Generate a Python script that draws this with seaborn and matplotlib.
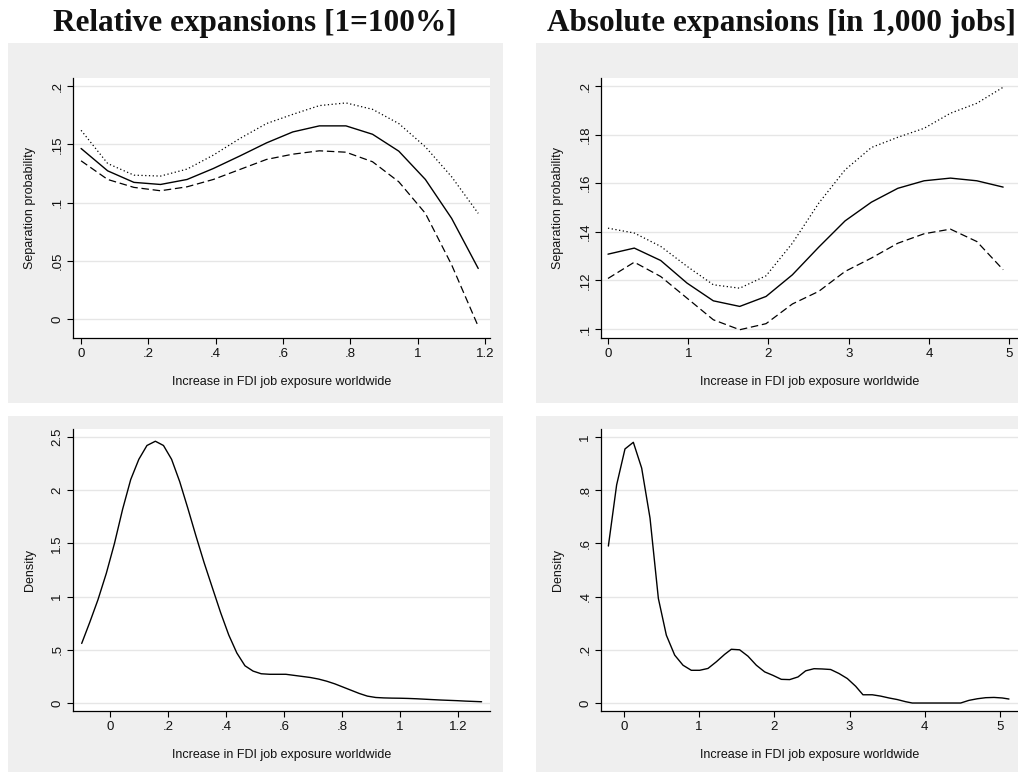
import numpy as np
import pandas as pd
import seaborn as sns
import matplotlib.pyplot as plt
from matplotlib.patches import Rectangle
from matplotlib.ticker import FixedLocator, FuncFormatter

# Top-left: relative expansions, separation probability with bounds
rel_x = [0, 0.079, 0.157, 0.236, 0.315, 0.393, 0.472, 0.551, 0.629, 0.708,
         0.787, 0.866, 0.944, 1.023, 1.101, 1.18]
rel_fit = [0.1464, 0.1272, 0.1173, 0.1155, 0.1198, 0.1292, 0.140, 0.1512,
           0.1606, 0.1658, 0.1658, 0.1586, 0.1441, 0.1198, 0.0864, 0.0434]
rel_upper = [0.162, 0.1335, 0.1235, 0.1227, 0.1287, 0.1407, 0.155, 0.1678,
             0.1757, 0.1832, 0.1855, 0.180, 0.1678, 0.1478, 0.1221, 0.0907]
rel_lower = [0.1358, 0.1198, 0.113, 0.1101, 0.1135, 0.1198, 0.1284, 0.137,
             0.1415, 0.1444, 0.1432, 0.135, 0.1178, 0.0907, 0.0465, -0.0063]

# Top-right: absolute expansions
abs_x = [0, 0.328, 0.657, 0.985, 1.313, 1.642, 1.97, 2.298, 2.627, 2.955,
         3.283, 3.612, 3.94, 4.268, 4.597, 4.925]
abs_fit = [0.1308, 0.1333, 0.1282, 0.1189, 0.1116, 0.1093, 0.1134, 0.1223,
           0.1337, 0.1445, 0.1522, 0.1579, 0.1610, 0.1621, 0.1610, 0.1584]
abs_upper = [0.1415, 0.1395, 0.134, 0.1258, 0.1182, 0.1168, 0.1219, 0.1353,
             0.1518, 0.1655, 0.1747, 0.1789, 0.1826, 0.1888, 0.1929, 0.1995]
abs_lower = [0.1208, 0.1275, 0.1216, 0.1127, 0.1038, 0.0997, 0.1022, 0.1103,
             0.1155, 0.1237, 0.1292, 0.1353, 0.1392, 0.1411, 0.136, 0.1244]

# Bottom-left: density of relative expansions
rel_dens_x = [-0.098, -0.070, -0.042, -0.013, 0.015, 0.043, 0.071, 0.099, 0.127,
              0.156, 0.184, 0.212, 0.240, 0.268, 0.296, 0.324, 0.353, 0.381,
              0.409, 0.437, 0.465, 0.493, 0.521, 0.550, 0.578, 0.606, 0.634,
              0.662, 0.690, 0.719, 0.747, 0.775, 0.803, 0.831, 0.859, 0.887,
              0.916, 0.944, 0.972, 1.000, 1.028, 1.056, 1.084, 1.112, 1.141,
              1.169, 1.197, 1.225, 1.253, 1.281]
rel_dens = [0.56, 0.76, 0.97, 1.22, 1.50, 1.82, 2.10, 2.29, 2.42, 2.46, 2.42,
            2.29, 2.08, 1.83, 1.57, 1.32, 1.08, 0.85, 0.64, 0.47, 0.35, 0.30,
            0.275, 0.27, 0.27, 0.27, 0.26, 0.25, 0.24, 0.225, 0.205, 0.18,
            0.15, 0.12, 0.09, 0.065, 0.052, 0.048, 0.046, 0.045, 0.043, 0.040,
            0.036, 0.032, 0.028, 0.025, 0.022, 0.018, 0.015, 0.012]

# Bottom-right: density of absolute expansions
abs_dens_x = [-0.208, -0.098, 0.013, 0.124, 0.235, 0.346, 0.457, 0.563, 0.674,
              0.785, 0.895, 1.006, 1.117, 1.228, 1.339, 1.427, 1.538, 1.649,
              1.76, 1.871, 1.981, 2.092, 2.203, 2.314, 2.416, 2.527, 2.637,
              2.748, 2.859, 2.97, 3.081, 3.178, 3.302, 3.413, 3.524, 3.635,
              3.745, 3.834, 4.0, 4.2, 4.477, 4.588, 4.699, 4.81, 4.92, 5.03,
              5.12]
abs_dens = [0.59, 0.82, 0.955, 0.98, 0.883, 0.695, 0.393, 0.255, 0.18, 0.142,
            0.123, 0.123, 0.13, 0.155, 0.183, 0.202, 0.20, 0.176, 0.142, 0.117,
            0.104, 0.089, 0.088, 0.098, 0.121, 0.129, 0.128, 0.126, 0.111,
            0.092, 0.063, 0.031, 0.031, 0.026, 0.019, 0.013, 0.005, 0.0, 0.0,
            0.0, 0.0, 0.01, 0.016, 0.02, 0.021, 0.019, 0.015]

titles = ["Relative expansions [1=100%]", "Absolute expansions [in 1,000 jobs]"]
xlabel = "Increase in FDI job exposure worldwide"

sns.set_theme(style="white")
plt.rcParams['font.family'] = ['Liberation Sans', 'DejaVu Sans']

W, H = 1018, 772
fig = plt.figure(figsize=(W / 100, H / 100), dpi=100)
fig.patch.set_facecolor('white')

PANEL_GRAY = '#efefef'
GRID_GRAY = '#e6e6e6'


def px_rect(x0, y0, x1, y1):
    return [x0 / W, 1 - y1 / H, (x1 - x0) / W, (y1 - y0) / H]


# gray panel backgrounds (behind the axes)
for (x0, y0, x1, y1) in [(8, 43, 503, 403), (536, 43, 1030, 403),
                         (8, 416, 503, 780), (536, 416, 1030, 780)]:
    fig.patches.append(Rectangle((x0 / W, 1 - y1 / H), (x1 - x0) / W, (y1 - y0) / H,
                                 transform=fig.transFigure, facecolor=PANEL_GRAY,
                                 edgecolor='none', zorder=-5))


def fmt(v, pos):
    s = ('%.2f' % v).rstrip('0').rstrip('.')
    if s.startswith('0.'):
        s = s[1:]
    elif s.startswith('-0.'):
        s = '-' + s[2:]
    return s


def style(ax, xticks, yticks, xlim, ylim, ylabel):
    ax.set_facecolor('white')
    ax.set_xlim(*xlim)
    ax.set_ylim(*ylim)
    ax.xaxis.set_major_locator(FixedLocator(xticks))
    ax.yaxis.set_major_locator(FixedLocator(yticks))
    ax.xaxis.set_major_formatter(FuncFormatter(fmt))
    ax.yaxis.set_major_formatter(FuncFormatter(fmt))
    for s in ['top', 'right']:
        ax.spines[s].set_visible(False)
    for s in ['left', 'bottom']:
        ax.spines[s].set_color('black')
        ax.spines[s].set_linewidth(0.9)
    ax.grid(axis='y', color=GRID_GRAY, linewidth=1.0)
    ax.grid(axis='x', visible=False)
    ax.tick_params(axis='both', which='major', direction='out', length=4,
                   width=0.8, color='black', labelsize=9.5, labelcolor='#111111',
                   bottom=True, left=True, pad=3)
    for lab in ax.get_yticklabels():
        lab.set_rotation(90)
        lab.set_va('center')
    ax.set_xlabel(xlabel, fontsize=9, labelpad=12, color='#111111')
    ax.set_ylabel(ylabel, fontsize=9, labelpad=11, color='#111111')


ax_tl = fig.add_axes(px_rect(73, 78, 490, 338))
ax_tr = fig.add_axes(px_rect(601, 78, 1018, 338))
ax_bl = fig.add_axes(px_rect(73, 429, 490, 711))
ax_br = fig.add_axes(px_rect(601, 429, 1018, 711))

for ax, xs, fit, up, lo in [(ax_tl, rel_x, rel_fit, rel_upper, rel_lower),
                             (ax_tr, abs_x, abs_fit, abs_upper, abs_lower)]:
    sns.lineplot(x=xs, y=up, ax=ax, color='black', linewidth=0.9, linestyle=(0, (1, 2)))
    sns.lineplot(x=xs, y=fit, ax=ax, color='black', linewidth=1.0)
    sns.lineplot(x=xs, y=lo, ax=ax, color='black', linewidth=0.9, linestyle=(0, (6, 3)))

sns.lineplot(x=rel_dens_x, y=rel_dens, ax=ax_bl, color='black', linewidth=1.0)
sns.lineplot(x=abs_dens_x, y=abs_dens, ax=ax_br, color='black', linewidth=1.0)

style(ax_tl, [0, 0.2, 0.4, 0.6, 0.8, 1.0, 1.2], [0, 0.05, 0.1, 0.15, 0.2],
      (-0.024, 1.215), (-0.0163, 0.2069), "Separation probability")
style(ax_tr, [0, 1, 2, 3, 4, 5], [0.1, 0.12, 0.14, 0.16, 0.18, 0.2],
      (-0.087, 5.11), (0.0963, 0.2033), "Separation probability")
style(ax_bl, [0, 0.2, 0.4, 0.6, 0.8, 1.0, 1.2], [0, 0.5, 1, 1.5, 2, 2.5],
      (-0.128, 1.31), (-0.075, 2.575), "Density")
style(ax_br, [0, 1, 2, 3, 4, 5], [0, 0.2, 0.4, 0.6, 0.8, 1.0],
      (-0.306, 5.24), (-0.03, 1.03), "Density")

fig.text(53 / W, 1 - 31 / H, titles[0], ha='left', va='baseline',
         fontsize=22.5, fontweight='bold', family='Liberation Serif', color='#111111')
fig.text(1016 / W, 1 - 31 / H, titles[1], ha='right', va='baseline',
         fontsize=22.5, fontweight='bold', family='Liberation Serif', color='#111111')

fig.savefig('out.png', dpi=100)
